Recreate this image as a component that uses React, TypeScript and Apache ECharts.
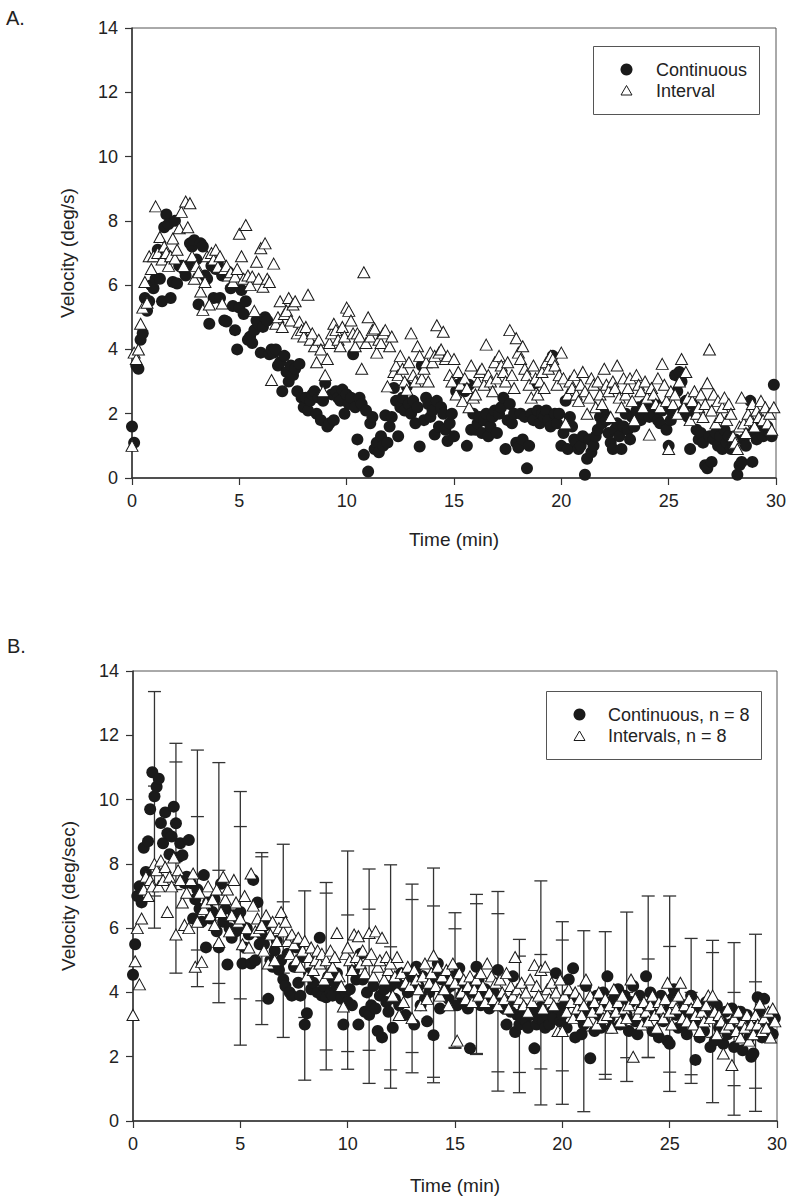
import React, { useEffect, useRef } from "react";
import * as echarts from "echarts";

// sample spacing of the recordings (min)
const sampleStep = 0.1;

// Panel A – single subject, one value per 0.1 min from t = 0.0
const continuousA = [
  1.6, 1.1, 3.5, 3.4, 4.3, 4.5, 5.6, 5.2, 5.5, 6.0,
  5.9, 6.2, 7.1, 6.2, 5.5, 7.8, 8.2, 7.9, 5.6, 6.1,
  8.0, 6.05, 6.6, 6.6, 6.5, 6.3, 6.6, 7.3, 7.2, 7.4,
  6.8, 5.4, 7.3, 7.2, 6.3, 6.2, 4.8, 6.6, 5.6, 6.5,
  6.7, 5.6, 6.3, 4.9, 4.87, 6.4, 5.9, 5.35, 4.6, 4.0,
  5.3, 5.85, 5.1, 5.5, 4.3, 4.4, 4.2, 4.6, 4.9, 4.8,
  3.9, 4.7, 5.0, 4.9, 3.85, 4.0, 3.9, 4.0, 3.5, 3.6,
  2.7, 3.8, 3.3, 3.0, 3.5, 3.2, 3.4, 2.7, 3.55, 2.5,
  2.2, 2.5, 2.1, 2.4, 2.6, 2.7, 2.0, 2.5, 1.8, 2.4,
  2.95, 1.6, 1.7, 2.6, 1.8, 2.7, 2.5, 2.4, 2.75, 2.0,
  2.6, 2.3, 2.5, 3.85, 2.2, 1.2, 2.5, 2.3, 0.72, 2.1,
  0.2, 1.7, 1.9, 0.9, 1.1, 0.8, 1.3, 1.0, 1.95, 1.1,
  1.6, 1.9, 2.8, 2.4, 1.3, 2.2, 2.5, 2.1, 2.85, 2.3,
  2.0, 2.4, 1.7, 2.2, 0.98, 3.5, 1.8, 2.5, 2.3, 1.9,
  2.1, 1.35, 2.4, 1.6, 2.2, 2.0, 1.5, 1.15, 1.7, 2.0,
  1.3, 2.7, 2.9, 2.8, 3.0, 2.7, 1.0, 2.9, 1.5, 2.0,
  1.5, 1.7, 1.9, 1.4, 1.8, 2.0, 1.3, 1.6, 1.9, 2.1,
  1.4, 2.0, 2.2, 2.5, 0.9, 1.8, 2.3, 1.7, 2.0, 1.1,
  0.95, 2.0, 1.2, 1.9, 0.3, 1.0, 2.0, 1.8, 2.95, 2.1,
  1.7, 2.0, 1.9, 2.1, 1.8, 1.6, 3.8, 2.0, 1.7, 2.0,
  1.0, 1.4, 2.4, 0.9, 1.9, 1.6, 1.2, 1.1, 0.9, 1.0,
  1.3, 0.1, 0.6, 1.2, 0.8, 1.0, 1.3, 1.5, 1.9, 1.7,
  2.0, 1.8, 1.4, 1.1, 0.9, 1.5, 1.7, 1.3, 0.9, 1.6,
  2.0, 1.5, 1.2, 1.9, 1.6, 2.1, 2.2, 1.8, 2.0, 2.3,
  2.2, 1.9, 2.4, 2.0, 2.3, 1.8, 1.7, 2.1, 2.2, 1.5,
  1.0, 1.8, 2.0, 3.2, 2.7, 3.3, 3.0, 2.1, 2.4, 1.9,
  0.9, 2.3, 2.0, 1.5, 1.2, 1.4, 1.1, 0.4, 0.3, 1.3,
  0.5, 1.2, 1.4, 1.0, 1.3, 0.9, 1.5, 1.1, 1.3, 0.9,
  1.0, 1.2, 0.1, 0.4, 0.5, 1.2, 1.0, 1.4, 2.4, 0.5,
  1.5, 1.2, 1.6, 1.4, 1.3, 1.5, 1.6, 1.4, 1.3, 2.9,
];

const intervalA = [
  1.0, 3.9, 3.7, 4.0, 4.8, 5.3, 6.1, 5.45, 6.9, 6.5,
  6.9, 8.45, 7.0, 7.5, 6.8, 7.2, 7.0, 6.6, 6.9, 7.45,
  6.83, 7.1, 7.77, 8.28, 6.6, 8.6, 7.8, 8.55, 6.9, 6.2,
  6.6, 6.4, 5.8, 5.23, 6.1, 6.9, 5.4, 7.0, 6.8, 7.1,
  6.57, 6.9, 5.43, 6.5, 6.6, 6.3, 6.4, 6.1, 6.27, 6.5,
  7.6, 6.9, 6.2, 7.87, 6.3, 6.0, 6.27, 5.2, 6.73, 6.2,
  7.15, 5.95, 7.3, 6.2, 6.1, 3.05, 6.67, 4.8, 5.0, 5.5,
  4.7, 5.1, 5.2, 5.6, 4.9, 5.4, 5.5, 4.5, 4.86, 4.6,
  4.4, 4.7, 5.7, 4.3, 4.5, 4.1, 3.6, 4.3, 4.0, 2.7,
  3.2, 3.7, 4.2, 4.5, 4.8, 4.6, 4.3, 4.1, 4.7, 4.4,
  5.3, 5.2, 4.9, 4.5, 4.1, 4.5, 4.4, 3.4, 6.4, 4.2,
  5.0, 4.4, 4.6, 4.65, 3.9, 4.3, 4.2, 4.5, 4.6, 2.85,
  4.1, 4.4, 3.3, 3.5, 3.2, 3.8, 3.4, 3.0, 2.75, 3.6,
  4.5, 3.2, 3.0, 4.1, 3.8, 3.1, 3.4, 3.6, 3.0, 3.9,
  3.6, 3.8, 4.75, 3.9, 4.0, 4.55, 3.7, 3.8, 3.2, 3.0,
  3.7, 2.6, 3.3, 2.9, 2.4, 3.1, 2.8, 2.2, 3.5, 2.5,
  2.6, 3.0, 3.3, 3.4, 2.9, 4.15, 3.2, 3.0, 2.7, 3.6,
  3.1, 3.8, 3.5, 3.3, 3.0, 3.6, 4.6, 3.2, 2.8, 4.35,
  3.9, 3.7, 4.1, 3.4, 3.2, 2.9, 2.5, 3.5, 3.1, 2.6,
  3.0, 3.3, 2.8, 3.6, 3.4, 3.8, 3.7, 3.5, 2.9, 3.2,
  3.9, 3.1, 1.7, 2.6, 3.0, 2.8, 3.2, 2.6, 2.4, 2.9,
  3.3, 2.7, 2.0, 2.5, 3.1, 2.9, 2.2, 3.0, 2.6, 2.3,
  3.4, 2.9, 2.7, 1.9, 3.0, 2.8, 3.5, 2.5, 2.2, 3.1,
  2.6, 2.8, 3.1, 2.4, 1.8, 3.2, 2.9, 2.7, 2.2, 3.0,
  2.5, 1.35, 2.8, 2.6, 2.3, 3.1, 2.2, 3.55, 2.9, 2.4,
  0.9, 2.7, 2.3, 2.6, 2.0, 3.0, 3.7, 2.2, 3.3, 2.5,
  1.8, 2.4, 2.7, 2.0, 2.2, 2.6, 1.9, 2.3, 2.95, 4.0,
  2.1, 2.6, 1.7, 2.4, 1.9, 2.2, 2.5, 1.8, 2.3, 2.0,
  1.3, 1.1, 0.9, 1.6, 2.5, 1.7, 1.4, 2.0, 1.8, 2.3,
  1.6, 2.1, 1.9, 2.4, 1.8, 2.2, 1.7, 2.0, 1.5, 2.2,
];

// Panel B – group means (n = 8), one value per 0.1 min from t = 0.0
const continuousB = [
  4.55, 5.5, 7.0, 7.3, 6.8, 8.5, 7.75, 8.7, 9.7, 10.85,
  10.1, 10.4, 10.65, 9.27, 8.64, 9.6, 8.95, 8.3, 8.85, 9.78,
  9.26, 8.2, 8.64, 8.27, 7.4, 7.6, 8.74, 7.4, 6.3, 6.9,
  7.2, 6.6, 6.2, 7.65, 5.4, 6.8, 6.3, 6.5, 6.9, 5.9,
  5.4, 7.38, 6.2, 6.6, 4.87, 6.0, 5.7, 6.4, 5.9, 6.3,
  6.5, 4.9, 5.4, 6.0, 5.8, 4.9, 7.5, 5.0, 6.8, 5.5,
  5.8, 5.5, 6.1, 3.8, 5.0, 4.8, 5.3, 5.6, 4.7, 5.0,
  4.4, 4.2, 5.2, 4.0, 3.9, 4.8, 5.4, 4.3, 3.9, 5.1,
  3.0, 3.35, 4.6, 4.1, 4.3, 5.0, 4.0, 5.7, 3.9, 4.2,
  3.85, 4.5, 4.0, 3.9, 4.3, 4.6, 4.1, 3.8, 3.0, 4.0,
  3.7, 4.1, 3.6, 4.7, 4.4, 3.0, 5.2, 4.4, 3.4, 4.0,
  3.3, 3.6, 4.2, 3.5, 2.8, 3.9, 2.6, 4.1, 3.7, 3.4,
  4.2, 2.9, 3.8, 4.3, 3.6, 4.6, 4.2, 3.3, 4.0, 4.5,
  4.4, 3.0, 4.8, 4.2, 3.6, 4.5, 3.8, 3.1, 4.0, 4.4,
  2.67, 4.6, 4.9, 3.5, 4.4, 3.9, 4.1, 3.8, 4.2, 4.5,
  4.3, 3.6, 4.75, 3.9, 4.1, 3.7, 3.5, 2.26, 4.0, 4.2,
  4.8, 4.4, 3.6, 3.9, 4.1, 3.7, 3.5, 3.8, 4.0, 3.7,
  4.7, 3.6, 3.8, 3.5, 3.0, 3.7, 3.4, 4.5, 2.77, 3.3,
  3.0, 3.2, 3.5, 3.1, 2.9, 3.3, 3.4, 2.26, 3.0, 3.2,
  3.55, 3.1, 2.9, 3.3, 3.0, 3.4, 3.2, 4.6, 3.5, 3.1,
  3.3, 3.6, 2.9, 4.4, 3.8, 4.75, 2.6, 3.2, 3.5, 2.7,
  3.0, 4.2, 3.4, 1.95, 3.6, 2.8, 3.9, 3.3, 2.9, 4.0,
  3.7, 4.5, 3.2, 2.9, 3.8, 3.5, 4.1, 3.0, 3.6, 3.9,
  3.3, 2.8, 3.7, 4.2, 3.1, 2.7, 3.9, 3.5, 3.2, 4.5,
  3.6, 4.0, 2.8, 3.3, 3.7, 2.6, 3.9, 3.1, 3.5, 2.5,
  2.4, 3.8, 4.1, 3.3, 2.9, 3.6, 3.0, 3.4, 2.7, 3.2,
  3.9, 3.5, 1.9, 3.0, 2.6, 3.4, 2.8, 3.7, 3.2, 2.3,
  3.3, 2.5, 3.6, 2.9, 3.1, 2.4, 3.4, 2.7, 3.0, 3.5,
  2.3, 3.2, 2.8, 3.4, 2.2, 3.0, 3.3, 2.6, 2.0, 2.1,
  2.9, 3.85, 3.4, 2.6, 3.8, 3.1, 2.8, 3.3, 2.7, 3.2,
];

const intervalB = [
  3.3, 4.97, 6.0, 4.25, 6.3, 7.2, 7.6, 7.0, 7.5, 7.3,
  8.0, 7.8, 7.3, 8.1, 7.5, 7.9, 6.5, 7.6, 7.3, 8.2,
  5.8, 7.8, 7.5, 6.8, 6.1, 7.1, 6.0, 7.5, 7.7, 4.8,
  6.2, 7.1, 4.95, 6.6, 6.8, 7.3, 6.4, 6.9, 6.1, 7.2,
  5.57, 6.5, 7.6, 6.9, 7.2, 5.9, 6.4, 7.5, 6.8, 6.2,
  6.3, 5.5, 7.0, 6.0, 5.4, 7.7, 6.7, 5.9, 6.3, 6.0,
  6.1, 5.3, 6.4, 4.9, 5.8, 6.2, 5.0, 5.6, 6.0, 6.5,
  5.9, 6.2, 5.6, 5.2, 5.8, 5.5, 5.0, 5.7, 4.8, 5.3,
  5.6, 4.5, 5.1, 5.4, 4.7, 5.0, 5.3, 4.9, 5.2, 4.4,
  5.0, 4.6, 5.3, 4.8, 5.1, 5.85, 4.5, 4.2, 3.56, 5.2,
  5.4, 5.0, 4.7, 5.8, 5.1, 5.75, 4.9, 5.3, 4.6, 5.0,
  5.85, 5.2, 4.5, 5.9, 4.8, 5.0, 5.7, 4.4, 5.1, 4.7,
  4.9, 3.9, 4.5, 5.1, 3.3, 4.6, 3.7, 4.3, 4.8, 4.2,
  3.2, 4.7, 4.4, 4.1, 3.6, 4.5, 4.9, 3.8, 4.3, 4.6,
  5.15, 4.2, 4.8, 3.9, 4.5, 4.1, 4.7, 3.6, 4.4, 4.9,
  4.3, 2.5, 4.6, 4.0, 4.4, 3.8, 4.2, 4.5, 3.7, 4.1,
  4.4, 3.9, 4.6, 4.2, 3.7, 4.9, 4.0, 4.5, 3.8, 4.3,
  3.6, 4.4, 4.0, 3.8, 4.6, 3.5, 4.2, 3.9, 5.1, 4.1,
  3.8, 4.3, 3.6, 4.0, 3.4, 4.4, 3.7, 4.85, 4.2, 3.9,
  4.7, 3.5, 4.8, 4.1, 3.8, 4.3, 3.6, 4.0, 2.8, 4.4,
  2.8, 3.9, 3.4, 4.1, 3.7, 3.2, 4.0, 3.5, 3.8, 3.3,
  3.6, 4.4, 3.1, 3.9, 3.4, 3.7, 3.0, 4.0, 3.5, 3.2,
  3.8, 3.3, 3.6, 2.9, 4.1, 3.4, 3.7, 3.1, 3.9, 3.5,
  3.2, 3.6, 4.4, 2.0, 3.8, 3.3, 3.5, 3.0, 3.7, 3.4,
  3.1, 3.6, 3.9, 3.3, 2.9, 3.7, 3.5, 3.2, 3.8, 4.3,
  3.4, 3.0, 3.7, 3.5, 3.9, 4.3, 3.2, 3.6, 3.1, 3.8,
  3.5, 3.0, 3.3, 3.7, 2.8, 3.4, 3.1, 3.6, 3.9, 3.2,
  3.9, 3.4, 2.7, 3.3, 3.1, 2.1, 2.9, 3.5, 3.0, 1.74,
  3.2, 2.8, 3.4, 2.6, 3.1, 2.9, 3.3, 2.5, 3.0, 2.7,
  3.3, 3.0, 3.65, 2.8, 3.2, 2.9, 3.4, 2.6, 3.5, 3.1,
];

// Panel B error bars (one per minute): outer low, inner low, inner high, outer high
const errTimes = [1, 2, 3, 4, 5, 6, 7, 8, 9, 10, 11, 12, 13, 14, 15, 16, 17, 18, 19, 20, 21, 22, 23, 24, 25, 26, 27, 28, 29];
const errLow = [6.0, 4.6, 4.18, 3.68, 2.36, 3.0, 2.6, 1.27, 1.59, 1.61, 1.17, 1.02, 1.5, 1.19, 2.26, 2.07, 0.93, 0.88, 0.5, 0.52, 0.29, 1.3, 1.23, 1.97, 0.92, 1.17, 0.57, 0.18, 0.3];
const errLowInner = [7.0, 7.2, 5.32, 4.28, 3.8, 3.74, 4.6, 3.22, 2.21, 2.16, 2.2, 1.59, 2.13, 1.36, 2.29, 2.1, 1.53, 1.51, 1.62, 1.56, 2.8, 1.45, 1.97, 1.98, 1.52, 1.44, 2.6, 1.1, 1.02];
const errHighInner = [10.42, 11.17, 9.47, 7.8, 9.16, 8.22, 6.82, 5.5, 7.09, 6.41, 6.59, 5.42, 6.89, 6.69, 5.98, 6.76, 6.45, 5.13, 5.18, 5.63, 4.2, 4.0, 4.0, 5.04, 5.43, 4.0, 5.24, 4.0, 4.33];
const errHigh = [13.36, 11.75, 11.54, 11.15, 10.25, 8.35, 8.61, 7.16, 7.42, 8.4, 7.84, 7.97, 7.37, 7.87, 6.48, 7.05, 7.14, 5.65, 7.47, 6.2, 5.92, 5.89, 6.5, 7.0, 7.0, 5.68, 5.62, 5.55, 5.81];

const FONT = "'Liberation Sans', Arial, Helvetica, sans-serif";
const INK = "#222";

const toPoints = (vals: number[]) =>
  vals.map((v, i) => [Math.round(i * sampleStep * 10) / 10, v]);

export default function App() {
  const ref = useRef<HTMLDivElement>(null);

  useEffect(() => {
    if (!ref.current) return;
    const chart = echarts.init(ref.current, undefined, { renderer: "svg" });

    const grids = [
      { left: 132, top: 28, width: 644, height: 450 },
      { left: 133, top: 671, width: 644, height: 450 },
    ];

    const axisCommon = {
      axisLine: { show: true, lineStyle: { color: "#333", width: 1.5 } },
      axisTick: { show: true, inside: false, length: 7, lineStyle: { color: "#333", width: 1.2 } },
      splitLine: { show: false },
      axisLabel: { color: INK, fontSize: 18, fontFamily: FONT },
      nameTextStyle: { color: INK, fontSize: 19, fontFamily: FONT },
    };

    const xAxis = [0, 1].map((g) => ({
      ...axisCommon,
      type: "value",
      gridIndex: g,
      min: 0,
      max: 30,
      interval: 5,
      name: "Time (min)",
      nameLocation: "middle",
      nameGap: g === 0 ? 52 : 55,
      axisLabel: { ...axisCommon.axisLabel, margin: 14 },
    }));

    const yAxis = [0, 1].map((g) => ({
      ...axisCommon,
      type: "value",
      gridIndex: g,
      min: 0,
      max: 14,
      interval: 2,
      name: g === 0 ? "Velocity (deg/s)" : "Velocity (deg/sec)",
      nameLocation: "middle",
      nameGap: 55,
      axisLabel: { ...axisCommon.axisLabel, margin: 14 },
    }));

    const circleStyle = { color: "#1a1a1a", opacity: 1 };
    const triStyle = { color: "#ffffff", borderColor: "#1a1a1a", borderWidth: 1, opacity: 1 };

    const errData = errTimes.map((t, i) => [t, errLow[i], errLowInner[i], errHighInner[i], errHigh[i]]);

    const option: any = {
      animation: false,
      backgroundColor: "#ffffff",
      grid: grids.map((g) => ({ ...g, show: true, borderColor: "#555", borderWidth: 1, backgroundColor: "transparent" })),
      xAxis,
      yAxis,
      series: [
        {
          name: "Continuous",
          type: "scatter",
          xAxisIndex: 0,
          yAxisIndex: 0,
          symbol: "circle",
          symbolSize: 12,
          itemStyle: circleStyle,
          data: toPoints(continuousA),
          z: 3,
        },
        {
          name: "Interval",
          type: "scatter",
          xAxisIndex: 0,
          yAxisIndex: 0,
          symbol: "triangle",
          symbolSize: [12, 11],
          itemStyle: triStyle,
          data: toPoints(intervalA),
          z: 4,
        },
        {
          name: "SD",
          type: "custom",
          xAxisIndex: 1,
          yAxisIndex: 1,
          encode: { x: 0, y: [1, 2, 3, 4] },
          z: 2,
          renderItem: (params: any, api: any) => {
            const t = api.value(0);
            const pts = [1, 2, 3, 4].map((k) => api.coord([t, api.value(k)]));
            const x = pts[0][0];
            const half = 6.5;
            const style = { stroke: "#333", lineWidth: 1.3 };
            const children: any[] = [
              { type: "line", shape: { x1: x, y1: pts[0][1], x2: x, y2: pts[3][1] }, style },
            ];
            pts.forEach((p: number[]) => {
              children.push({ type: "line", shape: { x1: x - half, y1: p[1], x2: x + half, y2: p[1] }, style });
            });
            return { type: "group", children };
          },
          data: errData,
        },
        {
          name: "Continuous, n = 8",
          type: "scatter",
          xAxisIndex: 1,
          yAxisIndex: 1,
          symbol: "circle",
          symbolSize: 12,
          itemStyle: circleStyle,
          data: toPoints(continuousB),
          z: 3,
        },
        {
          name: "Intervals, n = 8",
          type: "scatter",
          xAxisIndex: 1,
          yAxisIndex: 1,
          symbol: "triangle",
          symbolSize: [12, 11],
          itemStyle: triStyle,
          data: toPoints(intervalB),
          z: 4,
        },
      ],
      graphic: [
        { type: "text", left: 6, top: 8, style: { text: "A.", fontSize: 20, fontFamily: FONT, fill: INK } },
        { type: "text", left: 7, top: 636, style: { text: "B.", fontSize: 20, fontFamily: FONT, fill: INK } },
        // legend A
        { type: "rect", shape: { x: 593.5, y: 46.5, width: 166, height: 68 }, style: { fill: "#fff", stroke: "#555", lineWidth: 1 }, z: 10 },
        { type: "circle", shape: { cx: 626.5, cy: 69.5, r: 6 }, style: { fill: "#1a1a1a" }, z: 11 },
        { type: "polygon", shape: { points: [[626.5, 85.5], [632, 95], [621, 95]] }, style: { fill: "#fff", stroke: "#1a1a1a", lineWidth: 1 }, z: 11 },
        { type: "text", x: 656, y: 69.5, style: { text: "Continuous", fontSize: 18, fontFamily: FONT, fill: INK, verticalAlign: "middle" }, z: 11 },
        { type: "text", x: 656, y: 91, style: { text: "Interval", fontSize: 18, fontFamily: FONT, fill: INK, verticalAlign: "middle" }, z: 11 },
        // legend B
        { type: "rect", shape: { x: 546.5, y: 691.5, width: 215, height: 68 }, style: { fill: "#fff", stroke: "#555", lineWidth: 1 }, z: 10 },
        { type: "circle", shape: { cx: 579.5, cy: 714.5, r: 6 }, style: { fill: "#1a1a1a" }, z: 11 },
        { type: "polygon", shape: { points: [[579.5, 731], [585, 740.5], [574, 740.5]] }, style: { fill: "#fff", stroke: "#1a1a1a", lineWidth: 1 }, z: 11 },
        { type: "text", x: 608, y: 714.5, style: { text: "Continuous, n = 8", fontSize: 18, fontFamily: FONT, fill: INK, verticalAlign: "middle" }, z: 11 },
        { type: "text", x: 608, y: 736, style: { text: "Intervals, n = 8", fontSize: 18, fontFamily: FONT, fill: INK, verticalAlign: "middle" }, z: 11 },
      ],
    };

    chart.setOption(option);
    return () => chart.dispose();
  }, []);

  return (
    <div
      ref={ref}
      style={{ position: "absolute", left: 0, top: 0, width: 800, height: 1201, background: "#fff" }}
    />
  );
}
